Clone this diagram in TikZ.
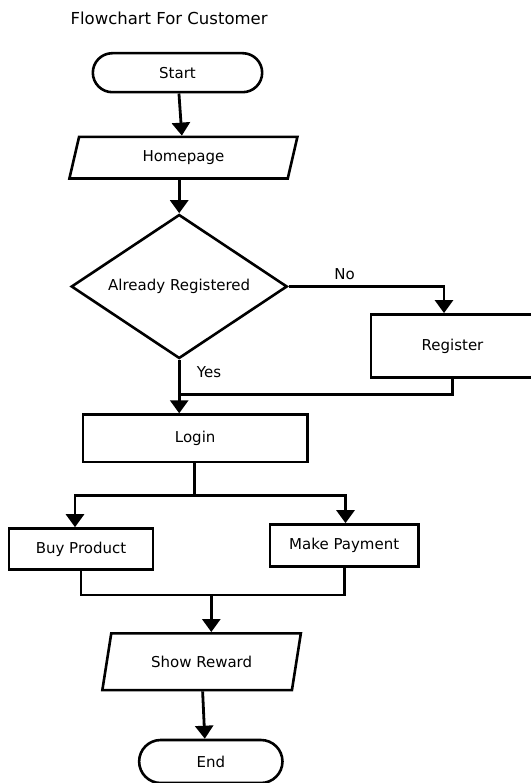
\documentclass[tikz,border=0pt]{standalone}
\usepackage{fontspec}
\setmainfont{DejaVu Sans}
\usepackage{tikz}
\usetikzlibrary{positioning,calc,arrows.meta,shapes.geometric,shapes.misc}

\begin{document}
\begin{tikzpicture}[->,>={Triangle[width=18pt,length=13pt]},line width=2.8pt,x=1pt,y=-1pt]
	\tikzstyle{every node}=[font=\fontsize{15}{18}\selectfont]
	\tikzstyle{terminal}=[rounded rectangle, draw=black, fill=white, line width=2.6pt]
	\tikzstyle{io}=[trapezium, trapezium left angle=65, trapezium right angle=115, trapezium stretches body, draw=black, fill=white, line width=2.6pt]
	\tikzstyle{decision}=[diamond, aspect=1.5, inner sep=0pt, draw=black, fill=white, line width=2.6pt]
	\tikzstyle{process}=[rectangle, draw=black, fill=white, line width=2.6pt]
	\useasboundingbox (0,0) rectangle (530,783);

	% Title
	\node[anchor=west, font=\fontsize{16.5}{20}\selectfont] (title) at (65.9,18.6) {Flowchart For Customer};
	% Draw the flowchart nodes
	\node[terminal, minimum width=176pt, minimum height=39pt] (start) at (177.5,72.7) {Start};
	\node[io, minimum width=228pt, minimum height=41.6pt] (home) at (183.4,157.7) {Homepage};
	\node[decision, minimum width=216pt, minimum height=144pt] (ask) at (179.2,286.5) {Already Registered};
	\node[process, minimum width=163pt, minimum height=63pt] (register) at (452.5,345.9) {Register};
	\node[process, minimum width=224.8pt, minimum height=47.4pt] (login) at (195.2,438.3) {Login};
	\node[process, minimum width=143.7pt, minimum height=41.2pt] (buy) at (81,549.1) {Buy Product};
	\node[process, minimum width=148.7pt, minimum height=41.9pt] (pay) at (344.2,545.4) {Make Payment};
	\node[io, minimum width=198.5pt, minimum height=56.7pt, trapezium left angle=64, trapezium right angle=116] (reward) at (201.6,661.7) {Show Reward};
	\node[terminal, minimum width=150pt, minimum height=43pt] (finish) at (210.8,761.5) {End};
	% Junction points of the connectors
	\coordinate (merge) at (179.2,394.7);
	\coordinate (fork) at (194.4,495.8);
	\coordinate (collect) at (211.3,595);

	% Connect the nodes
	\draw (start) -- (home);
	\draw (home.south -| ask.north) -- (ask.north);
	\draw (ask.east) -| node[pos=0.18, above, yshift=2pt] {No} ([xshift=-8.5pt]register.north);
	\draw (ask.south) -- node[pos=0.35, right=13pt] {Yes} (merge) -- (merge |- login.north);
	\draw[-] (register.south) |- (merge);
	\draw[-] (fork |- login.south) -- (fork);
	\draw (fork) -| ([xshift=-6pt]buy.north);
	\draw (fork) -| ([xshift=1.3pt]pay.north);
	\draw[-] (buy.south) |- (collect) -| (pay.south);
	\draw (collect) -- (collect |- reward.north);
	\draw ([xshift=1pt]reward.south) -- ([xshift=-6pt]finish.north);
\end{tikzpicture}
\end{document}
